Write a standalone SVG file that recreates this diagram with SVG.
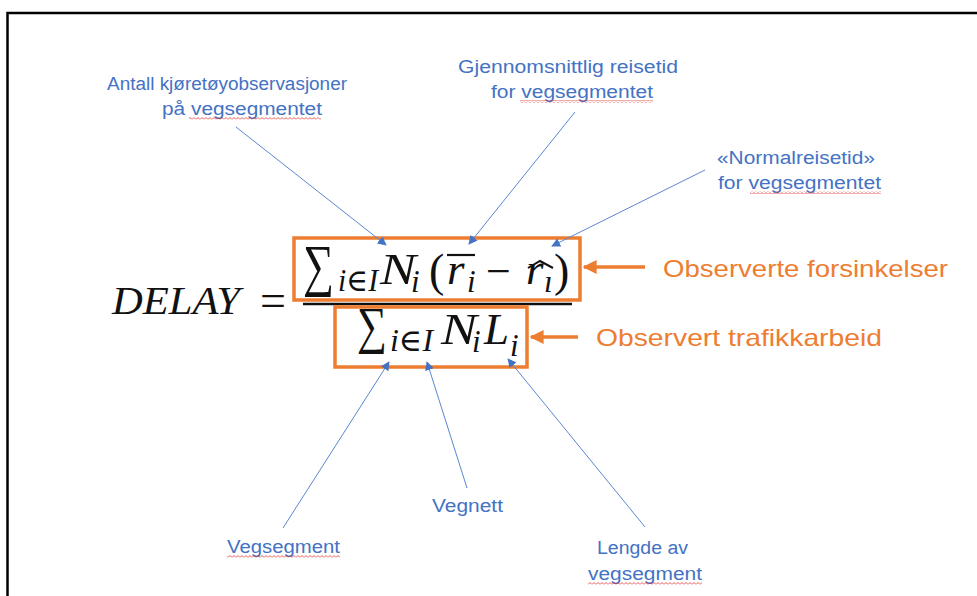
<svg xmlns="http://www.w3.org/2000/svg" width="977" height="596" viewBox="0 0 977 596">
<style>
.lbl{font-family:"Liberation Sans",Arial,sans-serif;font-size:18px;fill:#4472C4}
.org{font-family:"Liberation Sans",Arial,sans-serif;font-size:24px;fill:#ED7D31}
.m{font-family:"Liberation Serif","DejaVu Serif",serif;font-style:italic;fill:#111}
.mu{font-family:"Liberation Serif","DejaVu Serif",serif;fill:#111}
.con{stroke:#5B87D0;stroke-width:1;fill:none}
.box{stroke:#ED7D31;stroke-width:3.5;fill:none}
.oarr{stroke:#ED7D31;stroke-width:3.5;fill:none}
.wavy{fill:url(#wv)}
</style>
<defs>
<marker id="ah" viewBox="0 0 10 10" refX="9" refY="5" markerWidth="9" markerHeight="9" markerUnits="userSpaceOnUse" orient="auto">
<path d="M0,0 L10,5 L0,10 Z" fill="#4472C4"/>
</marker>
<marker id="oh" viewBox="0 0 10 10" refX="9" refY="5" markerWidth="4" markerHeight="4" orient="auto">
<path d="M0,0 L10,5 L0,10 Z" fill="#ED7D31"/>
</marker>
<pattern id="wv" patternUnits="userSpaceOnUse" width="4" height="3">
<polyline points="0,2.5 2,0.5 4,2.5" fill="none" stroke="#E03030" stroke-width="0.8"/>
</pattern>
</defs>
<rect width="977" height="596" fill="#fff"/>
<path d="M7.5,596 V13 H977" fill="none" stroke="#000" stroke-width="2.5"/>

<g id="formula">
<text class="m" x="112" y="314" font-size="41" textLength="128" lengthAdjust="spacingAndGlyphs">DELAY</text>
<text class="mu" x="260" y="316" font-size="46">=</text>
<line x1="303" y1="304" x2="572" y2="304" stroke="#111" stroke-width="2.5"/>
<text class="mu"><tspan x="303" y="285" font-size="58" textLength="31" lengthAdjust="spacingAndGlyphs">∑</tspan><tspan class="m" x="338" y="291" font-size="31" textLength="40" lengthAdjust="spacingAndGlyphs">i∈I</tspan></text>
<text class="m" x="380" y="284" font-size="45" textLength="36" lengthAdjust="spacingAndGlyphs">N</text>
<text class="m" x="411" y="292" font-size="31">i</text>
<text class="mu" x="429" y="286" font-size="46">(</text>
<text class="m" x="447" y="284" font-size="45">r</text>
<line x1="447" y1="255" x2="475" y2="255" stroke="#111" stroke-width="2.2"/>
<text class="m" x="467" y="292" font-size="31">i</text>
<text class="mu" x="486" y="286" font-size="44">−</text>
<text class="m" x="526" y="284" font-size="45">r</text>
<path d="M528,268 L540,261 L553,268" fill="none" stroke="#111" stroke-width="2"/>
<text class="m" x="544" y="292" font-size="31">ı</text>
<text class="mu" x="554" y="286" font-size="46">)</text>

<text class="mu"><tspan x="357" y="343" font-size="52" textLength="30" lengthAdjust="spacingAndGlyphs">∑</tspan><tspan class="m" x="390" y="351" font-size="31" textLength="43" lengthAdjust="spacingAndGlyphs">i∈I</tspan></text>
<text class="m" x="441" y="344" font-size="45" textLength="36" lengthAdjust="spacingAndGlyphs">N</text>
<text class="m" x="472" y="352" font-size="31">i</text>
<text class="m" x="484" y="344" font-size="45">L</text>
<text class="m" x="510" y="356" font-size="31">i</text>
</g>

<g id="box-numerator"><rect class="box" x="294" y="238" width="286" height="62"/></g>
<g id="box-denominator"><rect class="box" x="335" y="307" width="192" height="60"/></g>

<g id="label-forsinkelser"><text class="org" x="663" y="277" textLength="285" lengthAdjust="spacingAndGlyphs">Observerte forsinkelser</text></g>
<g id="label-trafikkarbeid"><text class="org" x="596" y="346" textLength="286" lengthAdjust="spacingAndGlyphs">Observert trafikkarbeid</text></g>

<g id="label-antall">
<text class="lbl" x="107" y="90" textLength="240" lengthAdjust="spacingAndGlyphs">Antall kjøretøyobservasjoner</text>
<text class="lbl" x="162" y="115" textLength="160" lengthAdjust="spacingAndGlyphs">på vegsegmentet</text>
<rect class="wavy" x="189" y="117" width="132" height="3"/>
</g>
<g id="label-gjennomsnitt">
<text class="lbl" x="458" y="73" textLength="220" lengthAdjust="spacingAndGlyphs">Gjennomsnittlig reisetid</text>
<text class="lbl" x="491" y="98" textLength="162" lengthAdjust="spacingAndGlyphs">for vegsegmentet</text>
<rect class="wavy" x="520" y="100" width="133" height="3"/>
</g>
<g id="label-normal">
<text class="lbl" x="717" y="164" textLength="158" lengthAdjust="spacingAndGlyphs">«Normalreisetid»</text>
<text class="lbl" x="718" y="189" textLength="163" lengthAdjust="spacingAndGlyphs">for vegsegmentet</text>
<rect class="wavy" x="750" y="191" width="131" height="3"/>
</g>
<g id="label-vegsegment">
<text class="lbl" x="227" y="553" textLength="113" lengthAdjust="spacingAndGlyphs">Vegsegment</text>
<rect class="wavy" x="227" y="555" width="113" height="3"/>
</g>
<g id="label-vegnett">
<text class="lbl" x="432" y="512" textLength="71" lengthAdjust="spacingAndGlyphs">Vegnett</text>
</g>
<g id="label-lengde">
<text class="lbl" x="597" y="554" textLength="91" lengthAdjust="spacingAndGlyphs">Lengde av</text>
<text class="lbl" x="588" y="580" textLength="114" lengthAdjust="spacingAndGlyphs">vegsegment</text>
<rect class="wavy" x="588" y="582" width="114" height="3"/>
</g>

<g id="connectors">
<line class="con" x1="236" y1="127" x2="386" y2="245" marker-end="url(#ah)"/>
<line class="con" x1="575" y1="112" x2="469" y2="244" marker-end="url(#ah)"/>
<line class="con" x1="705" y1="170" x2="552" y2="246" marker-end="url(#ah)"/>
<line class="con" x1="283" y1="528" x2="389" y2="362" marker-end="url(#ah)"/>
<line class="con" x1="467" y1="488" x2="427" y2="362" marker-end="url(#ah)"/>
<line class="con" x1="645" y1="527" x2="508" y2="359" marker-end="url(#ah)"/>
<line class="oarr" x1="645" y1="267" x2="584" y2="267" marker-end="url(#oh)"/>
<line class="oarr" x1="578" y1="337" x2="531" y2="337" marker-end="url(#oh)"/>
</g>
</svg>
